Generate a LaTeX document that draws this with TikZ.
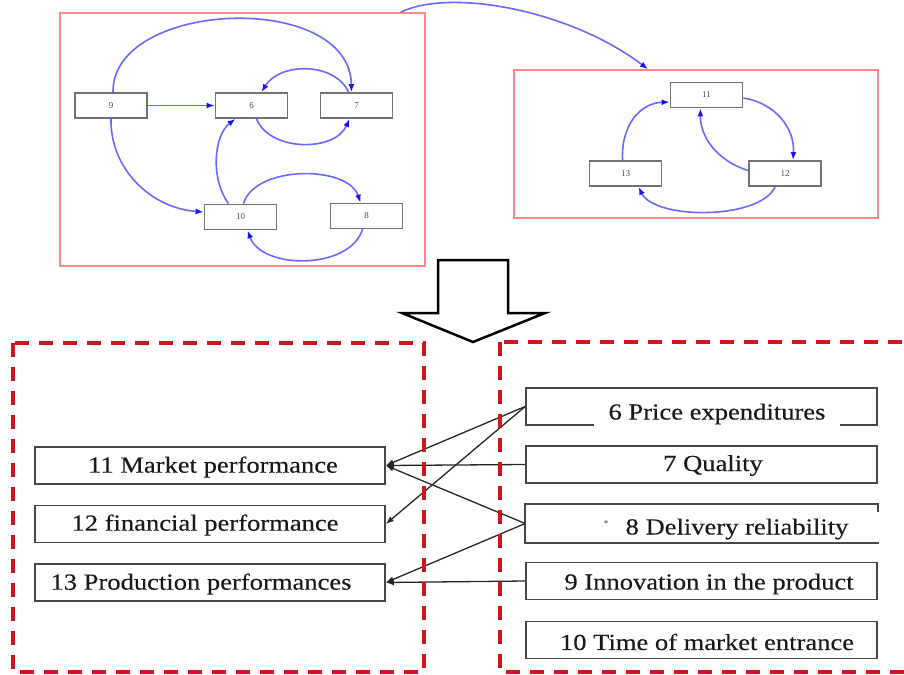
\documentclass[tikz,border=0pt]{standalone}
\usepackage{fontspec}
\setmainfont{Liberation Serif}
\newfontfamily\boxfont[FakeStretch=1.155,FakeBold=0.3]{Liberation Serif}
\usetikzlibrary{arrows.meta}
\definecolor{edgeblue}{RGB}{105,105,255}
\definecolor{tipblue}{RGB}{20,20,240}
\definecolor{framered}{RGB}{255,135,135}
\definecolor{dashred}{RGB}{210,20,30}
\definecolor{boxgray}{RGB}{115,115,115}
\definecolor{linegray}{RGB}{70,70,70}

\begin{document}
\begin{tikzpicture}[x=1pt,y=-1pt,
  smallbox/.style={draw=boxgray, line width=1.8pt, minimum width=72pt, minimum height=25pt,
    inner sep=0pt, font=\fontsize{9}{10}\selectfont, text=black!70},
  groupframe/.style={draw=framered, line width=1.6pt, inner sep=0pt},
  flow/.style={draw=edgeblue, line width=1.6pt, -{Latex[length=8pt,width=6pt,color=tipblue]}},
  bigbox/.style={draw=linegray, line width=1.6pt, minimum width=350pt, minimum height=37pt, inner sep=0pt},
  boxtext/.style={font=\boxfont\fontsize{23}{26}\selectfont, text=black!90, inner sep=0pt},
  link/.style={draw=black!85, line width=1.3pt},
  linkarrow/.style={link, -{Latex[length=8pt,width=6pt]}},
  dashframe/.style={draw=dashred, line width=3.5pt, dash pattern=on 14pt off 10pt}
]
\useasboundingbox (0,0) rectangle (904,674);

% ---------- upper part: two clusters ----------
\node[groupframe, minimum width=365pt, minimum height=253pt] (lgroup) at (242.5,139.5) {};
\node[groupframe, minimum width=364pt, minimum height=148pt] (rgroup) at (696,144) {};

\node[smallbox] (n9)  at (111,105.5) {9};
\node[smallbox] (n6)  at (251.5,105.5) {6};
\node[smallbox] (n7)  at (356.5,105.5) {7};
\node[smallbox] (n10) at (240.5,217) {10};
\node[smallbox] (n8)  at (366.5,216) {8};

\node[smallbox] (n11) at (706.5,95) {11};
\node[smallbox] (n13) at (625.5,173.5) {13};
\node[smallbox] (n12) at (785,173.5) {12};

% left cluster edges
\draw[flow] ([xshift=2pt]n9.north) .. controls (112,0) and (350,-10) .. ([xshift=-5pt]n7.north);
\draw[flow] ([xshift=-8pt]n7.north) .. controls (335,62) and (280,62) .. ([xshift=10pt]n6.north);
\draw[flow] (n9.east) -- (n6.west);
\draw[flow] ([xshift=5pt]n6.south) .. controls (270,152) and (335,152) .. ([xshift=-7pt]n7.south);
\draw[flow] ([xshift=-12pt]n10.north) .. controls (210,178) and (214,135) .. ([xshift=-16pt]n6.south);
\draw[flow] (n9.south) .. controls (110,168) and (150,208) .. ([yshift=5pt]n10.west);
\draw[flow] ([xshift=3pt]n10.north) .. controls (255,165) and (348,165) .. ([xshift=-6pt]n8.north);
\draw[flow] ([xshift=-4pt]n8.south) .. controls (350,270) and (262,270) .. ([xshift=7pt]n10.south);

% link between the clusters
\draw[flow] ([xshift=-25pt]lgroup.north east) .. controls (450,-12) and (570,10) .. ([xshift=-48pt]rgroup.north);

% right cluster edges
\draw[flow] ([xshift=-3pt]n13.north) .. controls (621,125) and (640,103) .. ([yshift=-7pt]n11.west);
\draw[flow] ([yshift=-3pt]n11.east) .. controls (775,103) and (795,128) .. ([xshift=8pt]n12.north);
\draw[flow] ([yshift=3pt]n12.west) .. controls (715,160) and (700,135) .. ([xshift=-6pt]n11.south);
\draw[flow] ([xshift=-10pt]n12.south) .. controls (760,220) and (655,220) .. ([xshift=13pt]n13.south);

% ---------- hollow down arrow ----------
\draw[line width=2.5pt, fill=white, line join=miter]
  (438,260) -- (508,260) -- (508,313) -- (545,313) -- (473,342) -- (402,313) -- (438,313) -- cycle;

% ---------- lower part: factor boxes ----------
\node[bigbox] (b11) at (210,465.5) {};
\node[bigbox] (b12) at (210,524) {};
\node[bigbox] (b13) at (210,582.5) {};
\node[boxtext] (t11) at (213,467) {11 Market performance};
\node[boxtext] (t12) at (205,525) {12 financial performance};
\node[boxtext] (t13) at (201,584) {13 Production performances};

\node[bigbox, minimum width=351pt] (b6)  at (701.5,406.5) {};
\node[bigbox, minimum width=351pt] (b7)  at (701.5,464.5) {};
\node[bigbox, minimum width=351pt, draw=none] (b8) at (701.5,523.5) {};
\node[bigbox, minimum width=351pt] (b9)  at (701.5,581) {};
\node[bigbox, minimum width=351pt] (b10) at (701.5,640) {};
\draw[draw=linegray, line width=1.6pt]
  ([yshift=-8pt]b8.north east) -- (b8.north east) -- (b8.north west)
  -- (b8.south west) -- ([xshift=1pt]b8.south east);

\node[boxtext, fill=white, inner xsep=15pt, minimum height=27pt] (t6) at (717,414) {6 Price expenditures};
\node[boxtext] (t7)  at (713,465.5) {7 Quality};
\node[boxtext, text=black!45] (t8dot) at (606,525) {·};
\node[boxtext] (t8)  at (737,529) {8 Delivery reliability};
\node[boxtext] (t9)  at (709,584) {9 Innovation in the product};
\node[boxtext] (t10) at (707,642) {10 Time of market entrance};

% links between the two columns
\draw[linkarrow] (b6.west) -- (b11.east);
\draw[linkarrow] (b6.west) -- (b12.east);
\draw[linkarrow] (b7.west) -- (b11.east);
\draw[linkarrow] (b8.west) -- (b11.east);
\draw[linkarrow] (b8.west) -- (b13.east);
\draw[linkarrow] (b9.west) -- (b13.east);

% dashed group frames
\draw[dashframe] (13,343) rectangle (424,672);
\draw[dashframe] (500,342) rectangle (935,672);
\end{tikzpicture}
\end{document}
